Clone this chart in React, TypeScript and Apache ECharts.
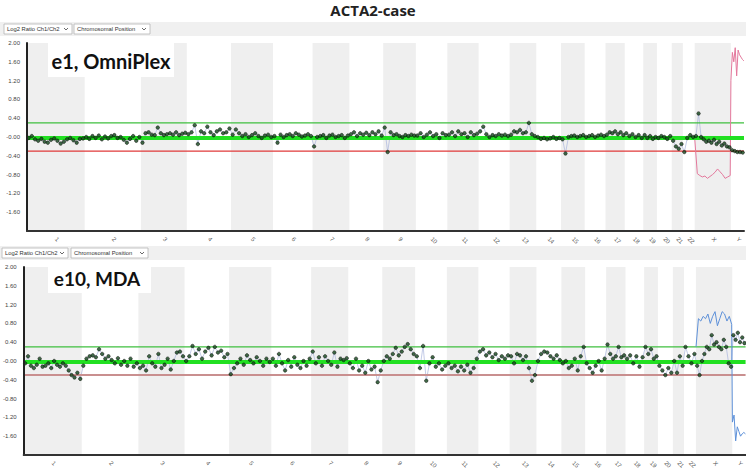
import React, { useEffect, useRef } from "react";
import * as echarts from "echarts";

const chromosomes = ["1","2","3","4","5","6","7","8","9","10","11","12","13","14","15","16","17","18","19","20","21","22","X","Y"];
const chromLengths = [249,243,198,191,181,171,159,146,141,136,135,134,115,107,102,90,83,80,59,64,48,51,156,57];
const yTickValues = [2, 1.6, 1.2, 0.8, 0.4, 0, -0.4, -0.8, -1.2, -1.6];
const thresholdUp = 0.3;
const thresholdDown = -0.3;
const baseline = -0.02;

// e1, OmniPlex: log2 ratio per probe, grouped by chromosome
const e1Values: number[][] = [
  [-0.02,0.02,-0.05,-0.08,-0.04,-0.1,-0.12,-0.06,-0.03,-0.08,-0.14,-0.1,-0.05,-0.02,-0.07,-0.12,-0.04,-0.03],
  [0.0,-0.04,0.02,-0.02,0.03,-0.05,0.01,-0.03,0.02,0.04,-0.02,0.0,-0.06,-0.12,-0.04,0.02,-0.08,0.0],
  [-0.12,0.08,0.1,0.05,0.04,0.2,0.08,0.04,0.06,0.08,0.05,0.1,0.04,0.07,0.09],
  [0.06,0.1,0.25,-0.15,0.12,0.08,0.22,0.1,0.04,0.12,0.16,0.08,0.1,0.18],
  [0.05,0.16,0.08,0.02,0.06,0.0,0.04,0.08,0.02,-0.02,0.03,0.05,0.0],
  [0.02,-0.12,0.05,0.0,0.04,0.06,0.02,0.08,0.05,0.01,0.03,0.06,0.02],
  [-0.2,0.0,0.02,0.04,-0.02,0.03,0.05,0.0,0.02,0.04,-0.02,0.03],
  [0.06,0.1,0.02,0.08,0.05,0.09,0.04,0.1,0.06,0.12,0.03],
  [0.2,-0.32,0.1,0.04,0.06,0.02,0.0,0.04,0.02,0.05,0.03],
  [0.03,0.08,0.0,0.05,0.1,0.02,0.06,-0.02,0.08,0.04],
  [0.05,0.1,0.02,0.12,0.06,0.08,0.0,0.1,0.04,0.07],
  [0.12,0.22,0.06,0.0,0.04,0.02,0.06,0.03,0.05,0.02],
  [0.05,0.12,0.1,0.15,0.08,0.1,0.3,0.06,0.02],
  [0.0,-0.04,-0.02,-0.05,-0.03,0.0,-0.04,-0.02],
  [-0.05,-0.35,0.0,0.02,0.03,0.0,0.02,0.04],
  [0.0,0.02,0.04,0.0,0.03,0.05,0.02],
  [0.05,0.1,0.08,0.12,0.06,0.1,0.04],
  [0.08,0.02,0.06,0.0,0.04,-0.02],
  [0.04,-0.02,0.02,-0.04,0.0],
  [-0.02,0.02,0.0,-0.04,0.02],
  [-0.08,-0.2,-0.25,-0.15],
  [-0.32,-0.02,0.04,0.0],
  [0.02,0.5,0.0,-0.05,-0.1,-0.08,-0.12,-0.06,-0.15,-0.1,-0.18,-0.14,-0.2,-0.22],
  [-0.28,-0.3,-0.32,-0.32,-0.33],
];
const e1PinkX = [-0.05,-0.78,-0.82,-0.85,-0.83,-0.88,-0.84,-0.8,-0.75,-0.68,-0.74,-0.8,-0.88,-0.85,-0.82];
const e1PinkY = [1.2,1.8,1.6,1.9,1.3,1.85,1.75,1.7,1.65,1.62];

// e10, MDA
const e10Values: number[][] = [
  [-0.05,0.1,-0.1,-0.15,-0.08,0.05,-0.12,-0.1,-0.05,-0.15,0.0,-0.08,-0.12,-0.05,-0.1,-0.2,-0.3,-0.35,-0.25,-0.38],
  [-0.1,0.05,0.1,0.12,0.08,0.25,0.15,0.05,0.1,0.02,-0.05,0.06,-0.08,0.0,-0.1,0.05,-0.12,-0.05],
  [-0.15,-0.1,-0.2,0.1,-0.05,-0.12,0.15,-0.15,-0.08,0.05,-0.18,0.0,0.18,0.2,0.1],
  [0.0,0.1,0.32,0.15,0.25,0.05,0.2,0.28,0.12,0.3,0.18,0.22,0.08,0.15],
  [-0.28,-0.15,-0.05,0.05,-0.08,0.12,0.02,-0.05,0.08,0.0,-0.1,0.05,-0.02],
  [0.05,-0.1,0.15,-0.05,-0.2,0.02,-0.12,0.08,-0.08,-0.15,0.0,-0.1,0.05],
  [0.2,-0.05,0.08,-0.1,0.1,0.0,-0.08,0.18,-0.12,0.05,0.02,0.06],
  [-0.05,-0.15,0.05,-0.2,-0.1,-0.25,0.0,-0.18,-0.12,-0.45,-0.2],
  [0.0,0.1,0.05,0.15,0.28,0.12,0.2,0.3,0.36,0.25,0.15],
  [0.1,-0.15,0.32,-0.42,-0.05,0.08,-0.12,-0.05,-0.18,-0.1],
  [-0.05,-0.15,-0.1,-0.22,-0.12,-0.2,-0.08,-0.25,-0.15,0.05],
  [0.2,0.25,0.12,0.18,0.08,0.15,0.02,0.1,0.05,0.12],
  [0.1,-0.05,0.15,0.12,0.02,0.1,-0.15,-0.42,-0.3],
  [0.0,0.15,0.2,0.18,0.1,0.05,0.12,0.02],
  [-0.05,0.0,-0.15,-0.1,0.05,-0.2,0.1,0.3],
  [-0.05,-0.15,-0.25,-0.1,0.0,-0.2,0.05],
  [0.35,0.15,0.05,0.1,0.3,0.08,0.12],
  [0.05,0.12,-0.05,0.1,-0.12,0.08],
  [0.3,0.15,0.25,0.05,0.1],
  [-0.1,-0.2,-0.3,-0.15,-0.25],
  [0.0,-0.25,0.1,-0.1],
  [0.3,0.1,-0.05,0.15],
  [-0.1,-0.3,0.0,0.15,0.3,0.25,0.55,0.35,0.4,0.3,0.25,0.45,0.3,-0.05,-0.12],
  [0.55,0.45,0.6,0.4,0.5,0.38],
];
const e10BlueX = [0.3,0.9,0.85,0.95,0.9,1.0,0.8,0.95,1.05,0.75,0.9,1.05,1.0,0.85,0.95,0.78];
const e10BlueY = [-1.3,-1.15,-1.7,-1.4,-1.5,-1.6,-1.55,-1.52,-1.55];

const offsets: number[] = [];
{
  let acc = 0;
  for (const l of chromLengths) { offsets.push(acc); acc += l; }
}
const genomeLength = chromLengths.reduce((a, b) => a + b, 0);
const mids = chromLengths.map((l, i) => offsets[i] + l / 2);

function placeAll(vals: number[][]): number[][] {
  const out: number[][] = [];
  vals.forEach((arr, i) => {
    arr.forEach((v, j) => {
      out.push([offsets[i] + ((j + 0.5) / arr.length) * chromLengths[i], v]);
    });
  });
  return out;
}
function placeLine(chromIdx: number, arr: number[]): number[][] {
  return arr.map((v, j) => [offsets[chromIdx] + (j / (arr.length - 1)) * chromLengths[chromIdx] * 0.98 + 0.5, v]);
}

const bandData = chromLengths
  .map((l, i) => (i % 2 === 0 ? [{ xAxis: offsets[i] }, { xAxis: offsets[i] + l }] : null))
  .filter((d) => d !== null);

function hLine(idx: number, value: number, color: string, width: number, z: number) {
  return {
    type: "line", xAxisIndex: idx, yAxisIndex: idx, z, silent: true, symbol: "none",
    data: [[0, value], [genomeLength, value]],
    itemStyle: { color },
    lineStyle: { color, width, type: "solid", opacity: 1 },
  };
}

function panelSeries(idx: number, vals: number[][], extra: number[][], extraColor: string) {
  const pts = placeAll(vals);
  return [
    {
      type: "line", xAxisIndex: idx, yAxisIndex: idx, data: [], z: 1, silent: true,
      markArea: { silent: true, itemStyle: { color: "#efefef" }, data: bandData },
    },
    {
      type: "line", xAxisIndex: idx, yAxisIndex: idx, data: pts, z: 2, symbol: "none", silent: true,
      lineStyle: { color: "#a9b4dc", width: 0.7 },
    },
    hLine(idx, thresholdUp, "#3fbf3f", 1.2, 2),
    hLine(idx, thresholdDown, idx === 0 ? "#e03a3a" : "#c98f8f", idx === 0 ? 1.2 : 2, 2),
    {
      type: "line", xAxisIndex: idx, yAxisIndex: idx, data: extra, z: 2, symbol: "none", silent: true,
      lineStyle: { color: extraColor, width: 1 },
    },
    hLine(idx, baseline, "#22e022", 4, 3),
    {
      type: "scatter", xAxisIndex: idx, yAxisIndex: idx, data: pts, z: 4, symbolSize: 3.5, silent: true,
      itemStyle: { color: "#164a1d", borderColor: "#000", borderWidth: 0.6 },
    },
  ];
}

function xAxisDef(gridIndex: number) {
  return {
    type: "value", gridIndex, min: 0, max: genomeLength, z: 6,
    axisLine: { onZero: false, lineStyle: { color: "#333", width: 2 } },
    axisTick: { show: false },
    splitLine: { show: false },
    axisLabel: {
      customValues: mids, rotate: -45, fontSize: 6, color: "#555", margin: 7,
      formatter: (v: number) => {
        const i = mids.findIndex((m) => Math.abs(m - v) < 0.5);
        return i >= 0 ? chromosomes[i] : "";
      },
    },
  };
}
function yAxisDef(gridIndex: number) {
  return {
    type: "value", gridIndex, min: -2, max: 2, interval: 0.4, z: 6,
    axisLine: { show: true, onZero: false, lineStyle: { color: "#222", width: 2 } },
    axisTick: { show: false },
    splitLine: { show: false },
    axisLabel: {
      fontSize: 6, color: "#444", margin: 7,
      formatter: (v: number) => {
        if (v < -1.9) return "";
        const near = yTickValues.find((t) => Math.abs(t - v) < 1e-6);
        if (near === undefined) return "";
        if (Math.abs(near) < 1e-9) return "-0.00";
        return near.toFixed(2);
      },
    },
  };
}

function toolbar(y: number, x1: number, w1: number, x2: number, w2: number) {
  const mk = (x: number, w: number, label: string) => [
    { type: "rect", shape: { x, y: y + 2, width: w, height: 10 }, style: { fill: "#fff", stroke: "#b5b5b5", lineWidth: 0.8 } },
    { type: "text", x: x + 3, y: y + 7, style: { text: label, fontSize: 5.8, fill: "#333", fontFamily: "Liberation Sans", verticalAlign: "middle" } },
    { type: "polyline", shape: { points: [[x + w - 8, y + 6], [x + w - 6, y + 8], [x + w - 4, y + 6]] }, style: { stroke: "#444", lineWidth: 0.8, fill: "none" } },
  ];
  return [
    { type: "rect", shape: { x: 0, y, width: 746, height: 14 }, style: { fill: "#f0f0f0" } },
    ...mk(x1, w1, "Log2 Ratio Ch1/Ch2"),
    ...mk(x2, w2, "Chromosomal Position"),
  ];
}

export default function App() {
  const ref = useRef<HTMLDivElement>(null);
  useEffect(() => {
    if (!ref.current) return;
    const chart = echarts.init(ref.current, undefined, { renderer: "svg" });
    const option: any = {
      animation: false,
      backgroundColor: "#ffffff",
      grid: [
        { left: 27, top: 43, width: 717, height: 188 },
        { left: 23, top: 267, width: 723, height: 188 },
      ],
      xAxis: [xAxisDef(0), xAxisDef(1)],
      yAxis: [yAxisDef(0), yAxisDef(1)],
      series: [
        ...panelSeries(0, e1Values, [...placeLine(22, e1PinkX), ...placeLine(23, e1PinkY)], "#e4789c"),
        ...panelSeries(1, e10Values, [...placeLine(22, e10BlueX), ...placeLine(23, e10BlueY)], "#5d90d8"),
      ],
      graphic: [
        { type: "text", x: 373, y: 10, z: 10, style: { text: "ACTA2-case", fontSize: 15, fontWeight: "bold", fontFamily: "Open Sans", fill: "#222", align: "center", verticalAlign: "middle" } },
        ...toolbar(22, 4, 68, 74, 76),
        ...toolbar(246, 2, 66, 71, 77),
        { type: "rect", z: 10, shape: { x: 48, y: 43, width: 126, height: 34 }, style: { fill: "#fff" } },
        { type: "text", z: 11, x: 111, y: 61, style: { text: "e1, OmniPlex", fontSize: 20, fontWeight: "bold", fontFamily: "Lato", fill: "#111", align: "center", verticalAlign: "middle" } },
        { type: "rect", z: 10, shape: { x: 48, y: 265, width: 103, height: 28 }, style: { fill: "#fff" } },
        { type: "text", z: 11, x: 97, y: 278, style: { text: "e10, MDA", fontSize: 19, fontWeight: "bold", fontFamily: "Lato", fill: "#111", align: "center", verticalAlign: "middle" } },
      ],
    };
    chart.setOption(option);
    return () => chart.dispose();
  }, []);
  return <div ref={ref} style={{ position: "fixed", left: 0, top: 0, width: 746, height: 471 }} />;
}
